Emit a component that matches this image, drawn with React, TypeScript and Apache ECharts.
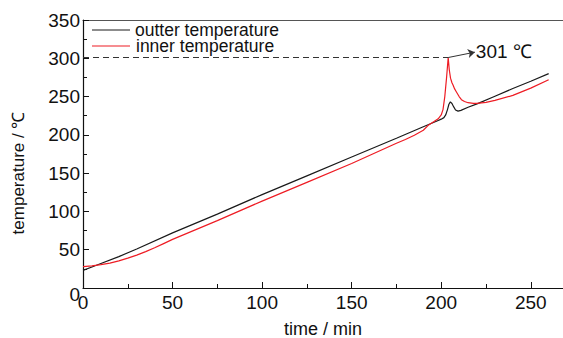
import React, { useEffect, useRef } from "react";
import * as echarts from "echarts";

const FONT = "'Liberation Sans Narrow', 'Liberation Sans', Arial, sans-serif";

const seriesNames = ["outter temperature", "inner temperature"];

const outerTime = [0, 5, 10, 20, 30, 50, 75, 100, 125, 150, 175, 190, 198, 200, 201.5, 202.5, 203.5, 204.3, 205.1, 206, 207, 208, 209.4, 211, 215, 220, 230, 240, 250, 260];
const outerTemp = [23, 27.5, 32, 41, 51, 72, 96.5, 122, 146.5, 171, 195.5, 210.5, 218.5, 220.5, 222.5, 226, 233, 240, 243, 241, 236.5, 232.5, 231, 232, 236, 240.5, 250.5, 260.5, 270, 280];

const innerTime = [0, 5, 10, 15, 20, 25, 30, 35, 40, 45, 50, 75, 100, 125, 150, 175, 180, 185, 190, 193, 196, 198.3, 200, 201, 202, 203, 203.9, 204.5, 205.2, 206, 206.6, 207.5, 208.5, 210, 211.3, 213, 215, 218, 220, 225, 230, 240, 250, 260];
const innerTemp = [28, 29, 30.5, 32.5, 35.5, 39, 43, 47.5, 52.5, 58, 63.5, 88, 113.5, 138, 162.5, 189, 194, 199.5, 206, 213, 217.5, 221, 226, 233, 250, 275, 301, 285, 274, 268, 265, 260, 256, 250, 246, 243.5, 242, 241, 241, 242.5, 245, 251.5, 261, 272];

const peakTime = 203.9;
const peakTemp = 301;
const peakLabel = "301 ℃";
const arrowEnd = [218.8, 308];

const xTicks = { min: 0, max: 268, interval: 50 };
const yTicks = { min: 0, max: 350, interval: 50 };

const BLACK = "#1a1a1a";
const RED = "#ee1c24";

export default function App() {
  const ref = useRef<HTMLDivElement>(null);
  useEffect(() => {
    if (!ref.current) return;
    const chart = echarts.init(ref.current, null, { renderer: "svg" });
    const axisColor = "#111";
    const legendText = { fontSize: 17.5, color: "#111", fontFamily: FONT, lineHeight: 16 };
    const legendBase = {
      left: 92,
      padding: 0,
      orient: "vertical",
      icon: "rect",
      itemWidth: 38,
      itemHeight: 1.2,
      itemGap: 0,
    };
    const option: any = {
      animation: false,
      textStyle: { fontFamily: FONT },
      grid: { left: 83, right: 0, top: 20, bottom: 50, outerBoundsMode: "none", containLabel: false },
      legend: [
        { ...legendBase, top: 21, data: [seriesNames[0]], textStyle: { ...legendText } },
        { ...legendBase, top: 37, data: [seriesNames[1]], textStyle: { ...legendText, padding: [0, 0, 0, 1] } },
      ],
      xAxis: [
        {
          type: "value",
          min: xTicks.min,
          max: xTicks.max,
          interval: xTicks.interval,
          axisLine: { lineStyle: { color: axisColor, width: 1.2 } },
          axisTick: { inside: true, length: 6, lineStyle: { color: axisColor } },
          minorTick: { show: true, splitNumber: 2, length: 4, lineStyle: { color: axisColor } },
          splitLine: { show: false },
          axisLabel: { fontSize: 19, color: "#111", margin: 5, showMaxLabel: false, fontFamily: FONT },
          name: "time / min",
          nameLocation: "middle",
          nameGap: 32,
          nameMoveOverlap: false,
          nameTextStyle: { fontSize: 18, color: "#111", fontFamily: FONT },
        },
        {
          type: "value",
          position: "top",
          min: xTicks.min,
          max: xTicks.max,
          axisLine: { lineStyle: { color: "#555", width: 1.2 } },
          axisTick: { show: false },
          axisLabel: { show: false },
          splitLine: { show: false },
        },
      ],
      yAxis: {
        type: "value",
        min: yTicks.min,
        max: yTicks.max,
        interval: yTicks.interval,
        axisLine: { show: true, lineStyle: { color: axisColor, width: 1.2 } },
        axisTick: { show: true, inside: true, length: 6, lineStyle: { color: axisColor } },
        minorTick: { show: true, splitNumber: 2, length: 4, lineStyle: { color: axisColor } },
        splitLine: { show: false },
        axisLabel: {
          fontSize: 19,
          color: "#111",
          margin: 3,
          fontFamily: FONT,
          formatter: (v: number) => (v === 0 ? "{zero|0}" : String(v)),
          rich: { zero: { fontSize: 19, color: "#111", fontFamily: FONT, lineHeight: 32, verticalAlign: "bottom" } },
        },
        name: "temperature / ℃",
        nameLocation: "middle",
        nameGap: 56,
        nameMoveOverlap: false,
        nameTextStyle: { fontSize: 17, color: "#111", fontFamily: FONT, padding: [0, 38, 0, 0] },
      },
      series: [
        {
          name: seriesNames[0],
          type: "line",
          symbol: "none",
          data: outerTime.map((t, i) => [t, outerTemp[i]]),
          lineStyle: { color: BLACK, width: 1.2 },
          itemStyle: { color: BLACK },
        },
        {
          name: seriesNames[1],
          type: "line",
          symbol: "none",
          data: innerTime.map((t, i) => [t, innerTemp[i]]),
          lineStyle: { color: RED, width: 1.2 },
          itemStyle: { color: RED },
          markLine: {
            silent: true,
            data: [
              [
                { coord: [0, peakTemp], symbol: "none", lineStyle: { type: [6, 4], color: "#333", width: 1 }, label: { show: false } },
                { coord: [peakTime, peakTemp], symbol: "none" },
              ],
              [
                { coord: [peakTime, peakTemp], symbol: "none", lineStyle: { type: "solid", color: "#333", width: 1 } },
                {
                  coord: arrowEnd,
                  symbol: "arrow",
                  symbolSize: 7,
                  label: {
                    show: true,
                    position: "end",
                    formatter: peakLabel,
                    fontSize: 19,
                    color: "#111",
                    fontFamily: FONT,
                    distance: 1,
                  },
                },
              ],
            ],
          },
        },
      ],
    };
    chart.setOption(option);
    return () => chart.dispose();
  }, []);
  return (
    <div
      ref={ref}
      style={{ position: "fixed", left: 0, top: 0, width: 563, height: 338, background: "#fff" }}
    />
  );
}
